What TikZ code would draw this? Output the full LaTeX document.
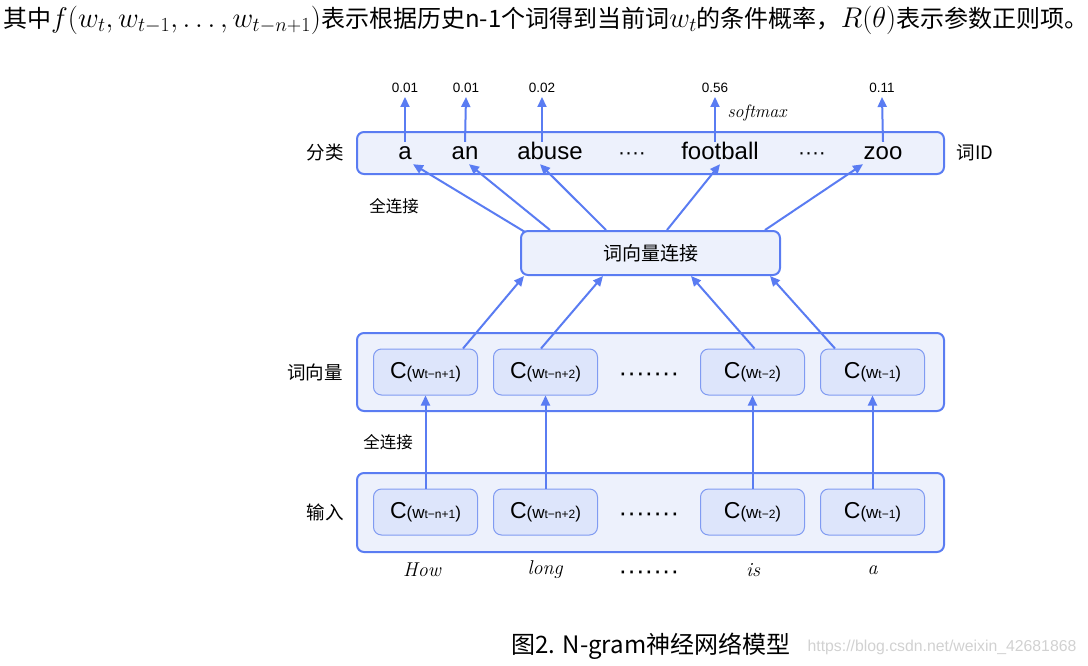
\RequirePackage{fix-cm}
\documentclass[tikz,border=0pt]{standalone}
\usepackage[no-math]{fontspec}
\newfontfamily\arial{Liberation Sans}
\newfontfamily\cjk{Noto Sans CJK SC}
\usetikzlibrary{arrows.meta}

\definecolor{lineblue}{RGB}{90,124,242}
\definecolor{panelfill}{RGB}{237,241,252}
\definecolor{cellfill}{RGB}{221,229,251}
\definecolor{cellline}{RGB}{128,155,242}

\newcommand{\fs}[1]{\fontsize{#1}{#1}\selectfont}
\newcommand{\embw}[1]{{\fs{23}C}{\fs{17}(w}{\fs{12}#1}{\fs{17})}}
\newcommand{\bigmath}[1]{{\fs{28.5}$#1$}}

\begin{document}
\begin{tikzpicture}[x=1pt, y=-1pt,
        panel/.style={draw=lineblue, fill=panelfill, line width=2pt, rounded corners=7pt},
        cell/.style={draw=cellline, fill=cellfill, line width=1pt, rounded corners=8pt,
                minimum width=104pt, minimum height=46pt, font=\arial},
        word/.style={inner sep=0, text height=17pt, text depth=5pt, font=\arial\fs{24}},
        prob/.style={inner xsep=0, inner ysep=4pt, font=\arial\fs{13.5}},
        layer/.style={font=\cjk\fs{18.5}},
        dots/.style={font=\arial\fs{26}},
        link/.style={draw=lineblue, line width=2pt, -{Triangle[length=10pt,width=9pt]}}]
                \useasboundingbox (0,0) rectangle (1088,665);
                % heading line
                \node[anchor=west, inner sep=0] (intro) at (3,20) {\fs{24}{\cjk 其中}\bigmath{f(w_t,w_{t-1},\ldots,w_{t-n+1})}{\cjk 表示根据历史n-1个词得到当前词}\bigmath{w_t}{\cjk 的条件概率，}\bigmath{R(\theta)}{\cjk 表示参数正则项。}};
                % layers
                \node[panel, minimum width=587pt, minimum height=42pt] (cls) at (650.5,153) {};
                \node[panel, minimum width=259pt, minimum height=44pt, font=\cjk\fs{19}] (concat) at (650.5,253) {词向量连接};
                \node[panel, minimum width=587pt, minimum height=78pt] (emb) at (650.5,372) {};
                \node[panel, minimum width=587pt, minimum height=79pt] (inp) at (650.5,512.5) {};
                \node[layer] (lcls) at (325,153) {分类};
                \node[layer] (lid) at (975,153) {词ID};
                \node[layer] (lemb) at (315,372) {词向量};
                \node[layer] (linp) at (325,512) {输入};
                \node[font=\cjk\fs{16.5}] (fc1) at (394,206) {全连接};
                \node[font=\cjk\fs{16.5}] (fc2) at (388,442) {全连接};
                % output words
                \node[word] (wa) at (405,153) {a};
                \node[word] (wan) at (465,153) {an};
                \node[word] (wabuse) at (550,153) {abuse};
                \node[word, font=\arial\fs{21}] (wdots1) at (632,153) {····};
                \node[word] (wfoot) at (720,153) {football};
                \node[word, font=\arial\fs{21}] (wdots2) at (812,153) {····};
                \node[word] (wzoo) at (883,153) {zoo};
                \node[prob] (pa) at (405,88) {0.01};
                \node[prob] (pan) at (466,88) {0.01};
                \node[prob] (pabuse) at (542,88) {0.02};
                \node[prob] (pfoot) at (715,88) {0.56};
                \node[prob] (pzoo) at (882,88) {0.11};
                \node[font=\itshape\fs{18}] (sm) at (757,113) {softmax};
                % embeddings
                \node[cell] (e1) at (425.5,372) {\embw{t−n+1}};
                \node[cell] (e2) at (545.5,372) {\embw{t−n+2}};
                \node[dots] (edots) at (649,377) {·······};
                \node[cell] (e3) at (752.5,372) {\embw{t−2}};
                \node[cell] (e4) at (872.5,372) {\embw{t−1}};
                \node[cell] (i1) at (425.5,512) {\embw{t−n+1}};
                \node[cell] (i2) at (545.5,512) {\embw{t−n+2}};
                \node[dots] (idots) at (649,517) {·······};
                \node[cell] (i3) at (752.5,512) {\embw{t−2}};
                \node[cell] (i4) at (872.5,512) {\embw{t−1}};
                % input words
                \node[font=\itshape\fs{20}] (how) at (422,570) {How};
                \node[font=\itshape\fs{20}] (long) at (545,570) {long};
                \node[dots] (wdots) at (649,575) {·······};
                \node[font=\itshape\fs{20}] (is) at (753,570) {is};
                \node[font=\itshape\fs{20}] (wlast) at (872.5,570) {a};
                % caption
                \node[font=\cjk\fs{24}] (cap) at (651,646) {图2. N-gram神经网络模型};
                \node[font=\arial\fs{15.8}, text=black!18] (mark) at (942,647) {https://blog.csdn.net/weixin\_42681868};
                \begin{scope}[every edge/.style={link}]
                        \path (wa.north) edge (pa.south);
                        \path (wan.north) edge (pan.south);
                        \path ([xshift=-8pt]wabuse.north) edge (pabuse.south);
                        \path ([xshift=-5pt]wfoot.north) edge (pfoot.south);
                        \path (wzoo.north) edge (pzoo.south);
                        \path ([xshift=5pt,yshift=-2pt]concat.north west) edge ([xshift=8pt]wa.south);
                        \path ([xshift=30pt]concat.north west) edge ([xshift=4pt]wan.south);
                        \path ([xshift=86pt]concat.north west) edge ([xshift=-10pt]wabuse.south);
                        \path ([xshift=147pt]concat.north west) edge (wfoot.south);
                        \path ([xshift=245pt]concat.north west) edge ([xshift=-20pt]wzoo.south);
                        \path ([xshift=37.5pt]e1.north) edge ([xshift=4pt]concat.south west);
                        \path ([xshift=-4.5pt]e2.north) edge ([xshift=83pt]concat.south west);
                        \path ([xshift=2pt]e3.north) edge ([xshift=171pt]concat.south west);
                        \path ([xshift=-37.5pt]e4.north) edge ([xshift=250pt]concat.south west);
                        \path (i1.north) edge (e1.south);
                        \path (i2.north) edge (e2.south);
                        \path (i3.north) edge (e3.south);
                        \path (i4.north) edge (e4.south);
                \end{scope}
        \end{tikzpicture}
\end{document}
